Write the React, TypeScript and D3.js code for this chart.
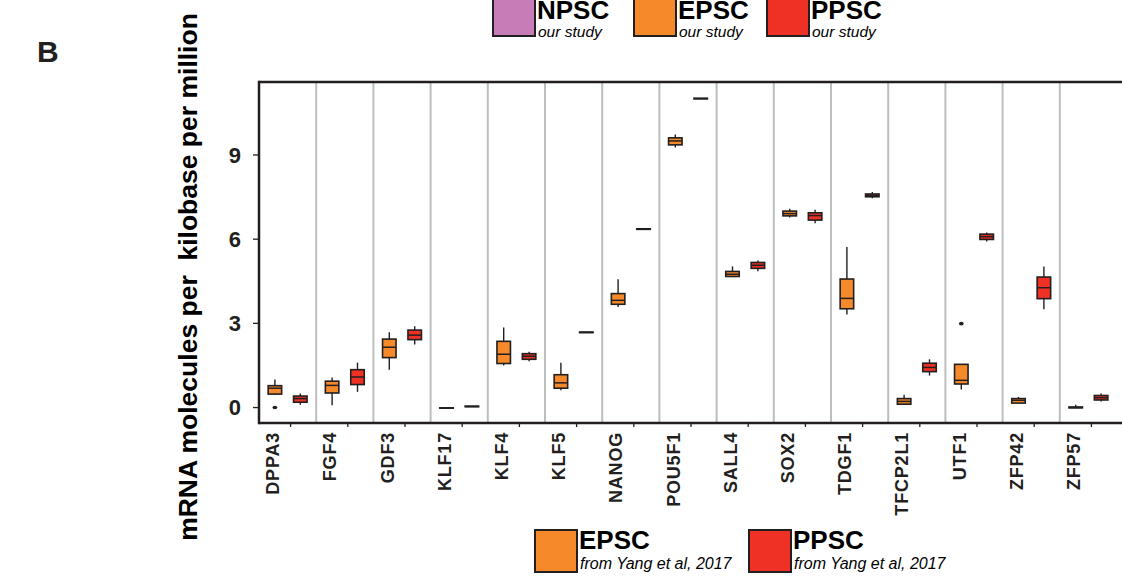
import * as d3 from "d3";

const genes = ["DPPA3", "FGF4", "GDF3", "KLF17", "KLF4", "KLF5", "NANOG", "POU5F1", "SALL4", "SOX2", "TDGF1", "TFCP2L1", "UTF1", "ZFP42", "ZFP57"];

// [lower whisker, q1, median, q3, upper whisker]
const epscStats = [
  [0.45, 0.48, 0.69, 0.78, 1.0],
  [0.08, 0.52, 0.79, 0.94, 1.07],
  [1.35, 1.78, 2.15, 2.44, 2.68],
  [-0.02, -0.02, -0.02, -0.01, -0.01],
  [1.5, 1.57, 1.9, 2.36, 2.85],
  [0.62, 0.69, 0.88, 1.17, 1.6],
  [3.58, 3.68, 3.82, 4.06, 4.57],
  [9.27, 9.36, 9.5, 9.61, 9.73],
  [4.65, 4.67, 4.75, 4.85, 5.03],
  [6.77, 6.83, 6.91, 7.0, 7.08],
  [3.32, 3.52, 3.89, 4.58, 5.72],
  [0.1, 0.12, 0.22, 0.32, 0.46],
  [0.64, 0.84, 0.97, 1.54, 1.54],
  [0.15, 0.16, 0.26, 0.32, 0.38],
  [-0.01, -0.01, 0.0, 0.02, 0.1],
];
const epscOutliers: [string, number][] = [["DPPA3", 0.0], ["UTF1", 2.99]];

const ppscStats = [
  [0.1, 0.19, 0.32, 0.41, 0.5],
  [0.56, 0.82, 1.09, 1.35, 1.6],
  [2.25, 2.42, 2.58, 2.76, 2.9],
  [0.03, 0.03, 0.04, 0.05, 0.05],
  [1.65, 1.72, 1.83, 1.92, 1.99],
  [2.67, 2.67, 2.68, 2.69, 2.69],
  [6.35, 6.35, 6.36, 6.37, 6.37],
  [11.0, 11.0, 11.01, 11.02, 11.02],
  [4.86, 4.96, 5.07, 5.17, 5.24],
  [6.57, 6.68, 6.84, 6.94, 7.05],
  [7.46, 7.51, 7.56, 7.61, 7.68],
  [1.14, 1.28, 1.43, 1.58, 1.72],
  [5.92, 5.99, 6.09, 6.18, 6.24],
  [3.5, 3.88, 4.27, 4.65, 5.03],
  [0.22, 0.27, 0.35, 0.43, 0.5],
];
const ppscOutliers: [string, number][] = [];

const yTicks = [0, 3, 6, 9];

const topLegend = [
  { name: "NPSC", note: "our study", color: "#c77cb8" },
  { name: "EPSC", note: "our study", color: "#f68a2b" },
  { name: "PPSC", note: "our study", color: "#ee3124" },
];
const bottomLegend = [
  { name: "EPSC", note: "from Yang et al, 2017", color: "#f68a2b" },
  { name: "PPSC", note: "from Yang et al, 2017", color: "#ee3124" },
];

const ORANGE = "#f68a2b";
const RED = "#ee3124";
const INK = "#231f20";
const FONT = "'Liberation Sans', Arial, Helvetica, sans-serif";

const W = 1122;
const H = 584;
const left = 259;
const top = 82;
const bottom = 423;
const band = 57.2;

const x = d3.scaleBand<string>().domain(genes).range([left, left + band * genes.length]).padding(0);
const y = d3.scaleLinear().domain([-0.55, 11.6]).range([bottom, top]);

function Box({ cx, s, fill }: { cx: number; s: number[]; fill: string }) {
  const bw = 13.5;
  const [lo, q1, md, q3, hi] = s;
  const yq3 = y(q3);
  const yq1 = y(q1);
  return (
    <g>
      <line x1={cx} x2={cx} y1={y(hi)} y2={y(lo)} stroke={INK} strokeWidth={1.4} />
      <rect x={cx - bw / 2} y={yq3} width={bw} height={Math.max(0.2, yq1 - yq3)} fill={fill} stroke={INK} strokeWidth={1.6} />
      <line x1={cx - bw / 2} x2={cx + bw / 2} y1={y(md)} y2={y(md)} stroke={INK} strokeWidth={1.5} />
    </g>
  );
}

export default function App() {
  const off = 12.7;
  return (
    <svg width={W} height={H} style={{ position: "absolute", left: 0, top: 0, background: "#fff" }} fontFamily={FONT}>
      <text x={37} y={62} fontSize={30} fontWeight="bold" fill={INK}>B</text>

      {/* top legend */}
      {topLegend.map((d, i) => {
        const lx = [493, 634, 767][i];
        return (
          <g key={"t" + i}>
            <rect x={lx} y={-6} width={42} height={42} fill={d.color} stroke={INK} strokeWidth={2} />
            <text x={lx + 44} y={19} fontSize={26} fontWeight="bold" fill="#000">{d.name}</text>
            <text x={lx + 45} y={37} fontSize={15.5} fontStyle="italic" fill="#000">{d.note}</text>
          </g>
        );
      })}

      {/* gridlines between genes */}
      {genes.slice(1).map((g) => (
        <line key={"g" + g} x1={x(g)!} x2={x(g)!} y1={top} y2={bottom} stroke="#bcbfbf" strokeWidth={2} />
      ))}

      {/* boxes */}
      {genes.map((g, i) => {
        const cx = x(g)! + x.bandwidth() / 2;
        return (
          <g key={"b" + g}>
            <Box cx={cx - off} s={epscStats[i]} fill={ORANGE} />
            <Box cx={cx + off} s={ppscStats[i]} fill={RED} />
          </g>
        );
      })}
      {epscOutliers.map(([g, v], i) => (
        <ellipse key={"eo" + i} cx={x(g)! + x.bandwidth() / 2 - off} cy={y(v)} rx={2.4} ry={1.8} fill={INK} />
      ))}
      {ppscOutliers.map(([g, v], i) => (
        <ellipse key={"po" + i} cx={x(g)! + x.bandwidth() / 2 + off} cy={y(v)} rx={2.4} ry={1.8} fill={INK} />
      ))}

      {/* frame */}
      <line x1={left} x2={W} y1={top} y2={top} stroke={INK} strokeWidth={2.5} />
      <line x1={left} x2={W} y1={bottom} y2={bottom} stroke={INK} strokeWidth={2.5} />
      <line x1={left} x2={left} y1={top - 1.2} y2={bottom + 1.2} stroke={INK} strokeWidth={2.5} />

      {/* y axis */}
      {yTicks.map((t) => (
        <g key={"y" + t}>
          <line x1={left - 6} x2={left} y1={y(t)} y2={y(t)} stroke={INK} strokeWidth={1.3} />
          <text x={241} y={y(t)} dy="0.36em" textAnchor="end" fontSize={22} fontWeight="bold" fill={INK}>{t}</text>
        </g>
      ))}
      <text transform={`translate(197,277) rotate(-90)`} textAnchor="middle" fontSize={26.5} fontWeight="bold" fill="#000" style={{ whiteSpace: "pre" }}>
        {"mRNA molecules per  kilobase per million"}
      </text>

      {/* x axis */}
      {genes.map((g) => {
        const cx = x(g)! + x.bandwidth() / 2;
        return (
          <g key={"x" + g}>
            <line x1={cx + 3} x2={cx + 3} y1={bottom} y2={bottom + 4} stroke={INK} strokeWidth={1.3} />
            <text transform={`translate(${cx - 8.5},${432}) rotate(-90)`} textAnchor="end" fontSize={18} fontWeight="bold" letterSpacing={0.8} fill={INK}>{g}</text>
          </g>
        );
      })}

      {/* bottom legend */}
      {bottomLegend.map((d, i) => {
        const lx = [535, 749][i];
        return (
          <g key={"bl" + i}>
            <rect x={lx} y={530} width={42} height={42} fill={d.color} stroke={INK} strokeWidth={2} />
            <text x={lx + 44} y={549} fontSize={26} fontWeight="bold" fill="#000">{d.name}</text>
            <text x={lx + 45} y={569} fontSize={16} fontStyle="italic" fill="#000">{d.note}</text>
          </g>
        );
      })}
    </svg>
  );
}
